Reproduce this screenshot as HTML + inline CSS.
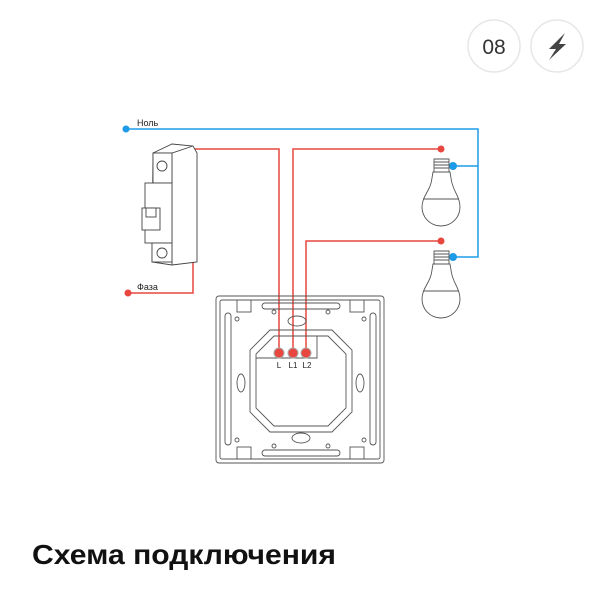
<!DOCTYPE html>
<html><head><meta charset="utf-8"><style>
body{margin:0;background:#fff;width:605px;height:605px;overflow:hidden;font-family:"Liberation Sans",sans-serif}
</style></head><body>
<svg width="605" height="605" viewBox="0 0 605 605" xmlns="http://www.w3.org/2000/svg">
<circle cx="494" cy="46" r="26" fill="#fff" stroke="#e6e6e6" stroke-width="1.5"/>
<text x="494" y="54" font-size="21" fill="#333" text-anchor="middle" font-family="Liberation Sans, sans-serif">08</text>
<circle cx="557" cy="46" r="26" fill="#fff" stroke="#e6e6e6" stroke-width="1.5"/>
<path d="M565 33 L549 49 L556 49 L549 60 L566 44 L559 44 Z" fill="#444"/>

<g stroke="#1e9be8" stroke-width="1.5" fill="none">
<path d="M126 129 H478 V257 H453"/>
<path d="M453 166 H478"/>
</g>
<circle cx="126" cy="129" r="3.5" fill="#1e9be8"/>
<circle cx="453" cy="166" r="4" fill="#1e9be8"/>
<circle cx="453" cy="257" r="4" fill="#1e9be8"/>
<g stroke="#e8473f" stroke-width="1.5" fill="none">
<path d="M172 149 H279 V353"/>
<path d="M441 149 H293 V353"/>
<path d="M441 241 H306 V353"/>
<path d="M128 293 H193 V250"/>
</g>
<circle cx="172" cy="149" r="3.5" fill="#e8473f"/>
<circle cx="128" cy="293" r="3.5" fill="#e8473f"/>
<circle cx="441" cy="149" r="3.5" fill="#e8473f"/>
<circle cx="441" cy="241" r="3.5" fill="#e8473f"/>
<text x="137" y="126" font-size="9" fill="#222">Ноль</text>
<text x="137" y="290" font-size="9" fill="#222">Фаза</text>

<g stroke="#444" stroke-width="0.9" fill="#fff">
<path d="M153 153 L172 144 L193 146 L197 153 V262 L172 265 L152 262 Z"/>
<path d="M153 153 H172 L193 146 M172 153 V265"/>
<rect x="153" y="153" width="19" height="30"/>
<circle cx="162" cy="166" r="5"/>
<rect x="145" y="183" width="27" height="60"/>
<rect x="142" y="208" width="18" height="22"/>
<rect x="146" y="208" width="10" height="9"/>
<rect x="152" y="243" width="20" height="19"/>
<circle cx="162" cy="253" r="5"/>
</g>

<g stroke="#555" stroke-width="0.9" fill="#fff">
<g>
<path d="M434 159 H449 V172 H434 Z"/>
<path d="M434 162 H449 M434 165 H449 M434 168 H449"/>
<path d="M433 172 H450 L451 178 C452 190 460 196 460 207 A19 19 0 0 1 422 207 C422 196 431 190 432 178 Z"/>
<path d="M423 199 H459"/>
</g>
<g transform="translate(0,92)">
<path d="M434 159 H449 V172 H434 Z"/>
<path d="M434 162 H449 M434 165 H449 M434 168 H449"/>
<path d="M433 172 H450 L451 178 C452 190 460 196 460 207 A19 19 0 0 1 422 207 C422 196 431 190 432 178 Z"/>
<path d="M423 199 H459"/>
</g>
</g>

<g stroke="#555" stroke-width="0.9" fill="none">
<rect x="216" y="296" width="168" height="167" rx="3"/>
<rect x="220" y="300" width="160" height="159" rx="2"/>
<rect x="262" y="303" width="78" height="6" rx="3"/>
<rect x="262" y="450" width="78" height="6" rx="3"/>
<rect x="225" y="313" width="6" height="132" rx="3"/>
<rect x="370" y="313" width="6" height="132" rx="3"/>
<rect x="237" y="300" width="14" height="12"/>
<rect x="350" y="300" width="14" height="12"/>
<rect x="237" y="447" width="14" height="12"/>
<rect x="350" y="447" width="14" height="12"/>
<path d="M270 330 H332 L352 350 V412 L332 432 H270 L250 412 V350 Z"/>
<path d="M274 336 H328 L346 354 V408 L328 426 H274 L256 408 V354 Z"/>
<path d="M256 358 H317 V336"/>
<ellipse cx="297" cy="321" rx="9" ry="5"/>
<ellipse cx="301" cy="438" rx="9" ry="5"/>
<ellipse cx="241" cy="383" rx="4" ry="9"/>
<ellipse cx="360" cy="383" rx="4" ry="9"/>
<circle cx="237" cy="319" r="2"/><circle cx="364" cy="319" r="2"/>
<circle cx="237" cy="440" r="2"/><circle cx="364" cy="440" r="2"/>
<circle cx="274" cy="312" r="2"/><circle cx="328" cy="312" r="2"/>
<circle cx="274" cy="446" r="2"/><circle cx="328" cy="446" r="2"/>
</g>
<circle cx="279" cy="353" r="5" fill="#e8473f" stroke="#aaa"/>
<circle cx="293" cy="353" r="5" fill="#e8473f" stroke="#aaa"/>
<circle cx="306" cy="353" r="5" fill="#e8473f" stroke="#aaa"/>
<g font-size="8" fill="#222" text-anchor="middle">
<text x="279" y="368">L</text><text x="293" y="368">L1</text><text x="307" y="368">L2</text>
</g>

<text x="32" y="564" font-size="28" font-weight="bold" fill="#111" textLength="304" lengthAdjust="spacingAndGlyphs" font-family="Liberation Sans, DejaVu Sans, sans-serif">Схема подключения</text>
</svg>
</body></html>
